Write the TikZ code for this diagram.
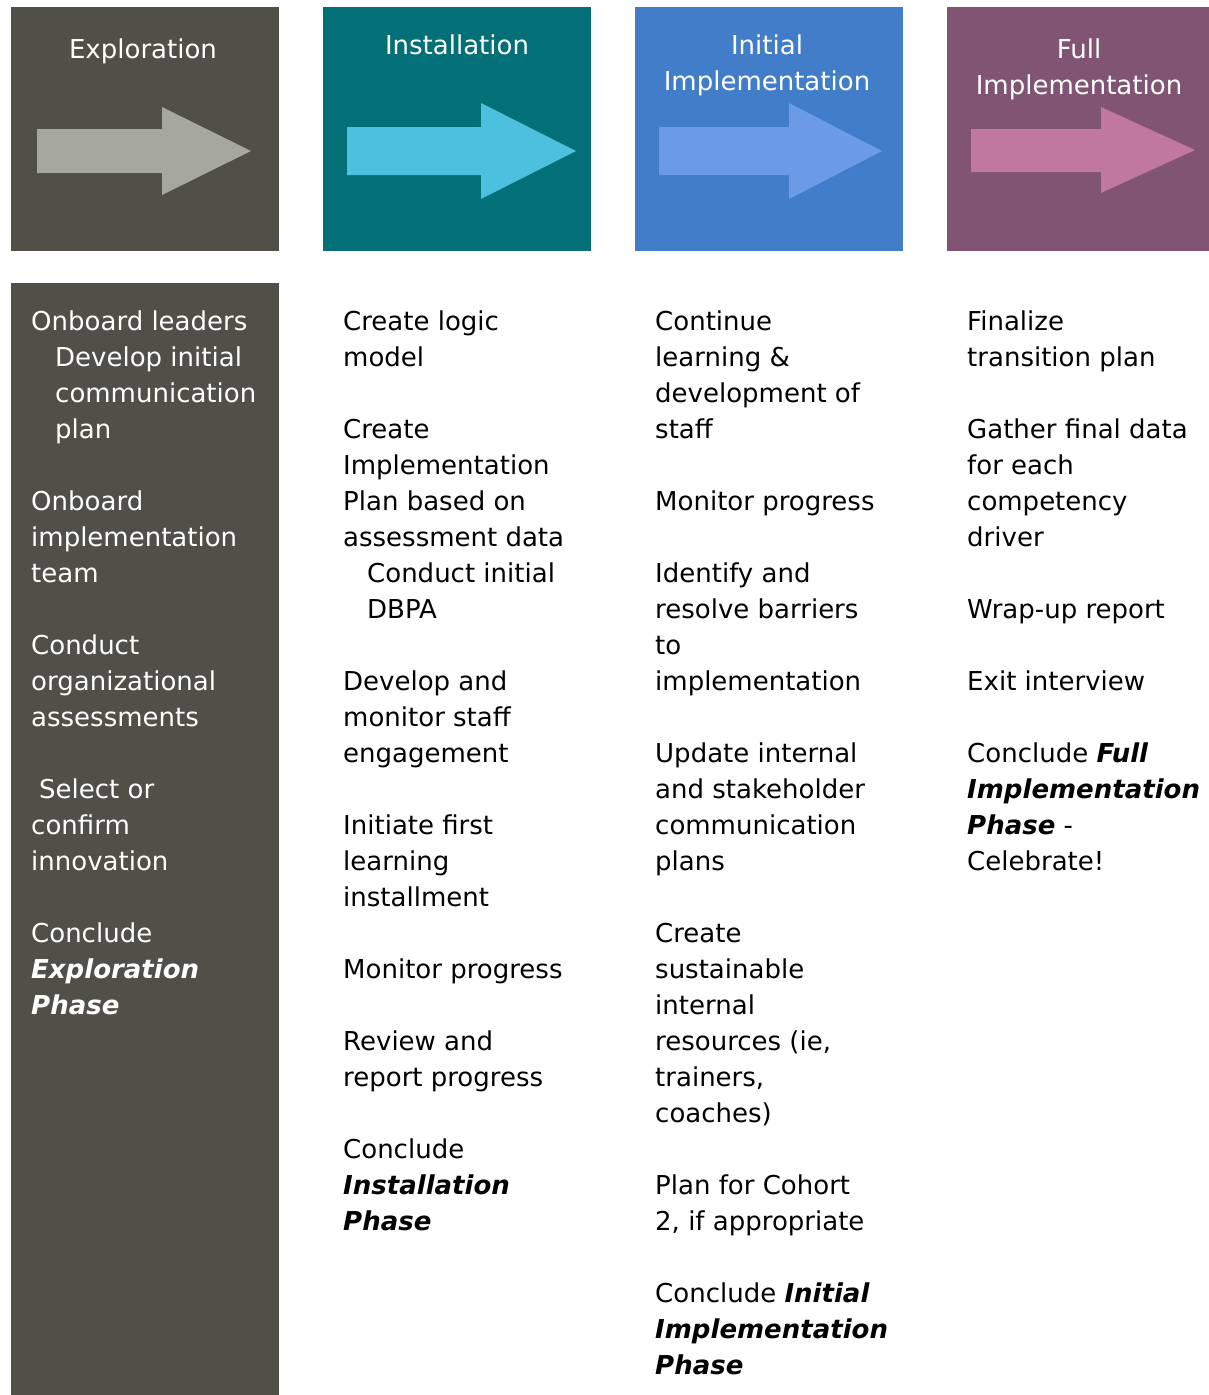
\documentclass[tikz,border=0pt]{standalone}
\usepackage{fontspec}
\setmainfont{DejaVu Sans}
\usepackage{tikz}
\usetikzlibrary{positioning}

\definecolor{explbox}{RGB}{80,80,72}
\definecolor{explarrow}{RGB}{166,167,159}
\definecolor{instbox}{RGB}{3,112,120}
\definecolor{instarrow}{RGB}{77,191,223}
\definecolor{initbox}{RGB}{66,125,201}
\definecolor{initarrow}{RGB}{107,155,230}
\definecolor{fullbox}{RGB}{129,84,115}
\definecolor{fullarrow}{RGB}{192,120,158}

\newcommand{\stagename}[1]{\textbf{\textit{#1}}}

\begin{document}
\begin{tikzpicture}[x=1pt, y=-1pt,
    phase/.style={rectangle, minimum width=268pt, minimum height=244pt, inner sep=0pt},
    title/.style={text=white, align=center, anchor=base, inner sep=0pt,
                  font=\fontsize{26}{36}\selectfont},
    steps/.style={align=left, anchor=base west, inner sep=0pt,
                  font=\fontsize{26}{36}\selectfont}
]
    \useasboundingbox (0,0) rectangle (1209,1395);

    % Header boxes
    \node[phase, fill=explbox] (expl) at (145,129) {};
    \node[phase, fill=instbox] (inst) at (457,129) {};
    \node[phase, fill=initbox] (init) at (769,129) {};
    \node[phase, fill=fullbox, minimum width=262pt] (full) at (1078,129) {};

    % Arrows
    \fill[explarrow] (37,129) -- (162,129) -- (162,107) -- (251,151) -- (162,195) -- (162,173) -- (37,173) -- cycle;
    \fill[instarrow] (347,127) -- (481,127) -- (481,103) -- (576,151) -- (481,199) -- (481,175) -- (347,175) -- cycle;
    \fill[initarrow] (659,127) -- (789,127) -- (789,103) -- (882,151) -- (789,199) -- (789,175) -- (659,175) -- cycle;
    \fill[fullarrow] (971,129) -- (1101,129) -- (1101,107) -- (1195,150) -- (1101,193) -- (1101,172) -- (971,172) -- cycle;

    % Titles (base = last line)
    \node[title] (expltitle) at (143,58) {Exploration};
    \node[title] (insttitle) at (457,54) {Installation};
    \node[title] (inittitle) at (767,90) {Initial\\Implementation};
    \node[title] (fulltitle) at (1079,94) {Full\\Implementation};

    % Exploration column
    \node[rectangle, fill=explbox, minimum width=268pt, minimum height=1112pt, inner sep=0pt] (explbody) at (145,839) {};
    \node[steps, text=white] (explsteps) at (31,1014) {%
        Onboard leaders\\
        \hspace*{24pt}Develop initial\\
        \hspace*{24pt}communication\\
        \hspace*{24pt}plan\\[36pt]
        Onboard\\
        implementation\\
        team\\[36pt]
        Conduct\\
        organizational\\
        assessments\\[36pt]
        \hspace*{8pt}Select or\\
        confirm\\
        innovation\\[36pt]
        Conclude\\
        \stagename{Exploration}\\
        \stagename{Phase}};

    % Installation column
    \node[steps] (inststeps) at (343,1230) {%
        Create logic\\
        model\\[36pt]
        Create\\
        Implementation\\
        Plan based on\\
        assessment data\\
        \hspace*{24pt}Conduct initial\\
        \hspace*{24pt}DBPA\\[36pt]
        Develop and\\
        monitor staff\\
        engagement\\[36pt]
        Initiate first\\
        learning\\
        installment\\[36pt]
        Monitor progress\\[36pt]
        Review and\\
        report progress\\[36pt]
        Conclude\\
        \stagename{Installation}\\
        \stagename{Phase}};

    % Initial implementation column
    \node[steps] (initsteps) at (655,1374) {%
        Continue\\
        learning \&\\
        development of\\
        staff\\[36pt]
        Monitor progress\\[36pt]
        Identify and\\
        resolve barriers\\
        to\\
        implementation\\[36pt]
        Update internal\\
        and stakeholder\\
        communication\\
        plans\\[36pt]
        Create\\
        sustainable\\
        internal\\
        resources (ie,\\
        trainers,\\
        coaches)\\[36pt]
        Plan for Cohort\\
        2, if appropriate\\[36pt]
        Conclude \stagename{Initial}\\
        \stagename{Implementation}\\
        \stagename{Phase}};

    % Full implementation column
    \node[steps] (fullsteps) at (967,870) {%
        Finalize\\
        transition plan\\[36pt]
        Gather final data\\
        for each\\
        competency\\
        driver\\[36pt]
        Wrap-up report\\[36pt]
        Exit interview\\[36pt]
        Conclude \stagename{Full}\\
        \stagename{Implementation}\\
        \stagename{Phase} -\\
        Celebrate!};
\end{tikzpicture}
\end{document}
